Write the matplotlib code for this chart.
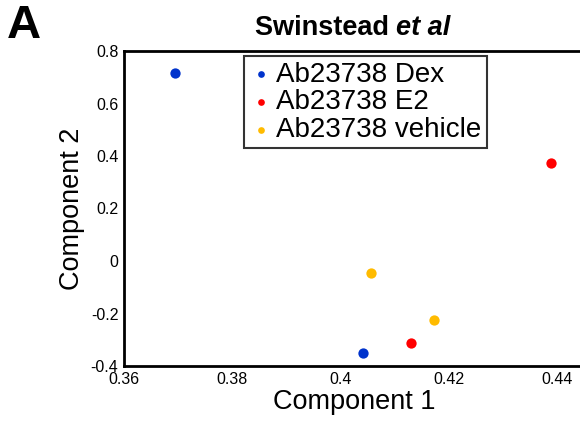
import matplotlib
matplotlib.use("Agg")
import matplotlib.pyplot as plt

plt.rcParams['font.family'] = ['Liberation Sans', 'DejaVu Sans']

# PCA scores
dex_x = [0.3694, 0.4042]
dex_y = [0.716, -0.350]
e2_x = [0.4130, 0.4389]
e2_y = [-0.312, 0.373]
veh_x = [0.4056, 0.4173]
veh_y = [-0.046, -0.225]

labels = ["Ab23738 Dex", "Ab23738 E2", "Ab23738 vehicle"]
colors = ["#0033cc", "#ff0000", "#ffbb00"]
xticks = [0.36, 0.38, 0.40, 0.42, 0.44]
xticklabels = ["0.36", "0.38", "0.4", "0.42", "0.44"]
yticks = [-0.4, -0.2, 0, 0.2, 0.4, 0.6, 0.8]
yticklabels = ["-0.4", "-0.2", "0", "0.2", "0.4", "0.6", "0.8"]

fig = plt.figure(figsize=(5.8, 4.26), dpi=100)
ax = fig.add_axes([124/580, 60/426, 460/580, 315/426])

for xs, ys, lab, c in zip([dex_x, e2_x, veh_x], [dex_y, e2_y, veh_y], labels, colors):
    ax.scatter(xs, ys, s=55, color=c, label=lab, linewidths=0, zorder=3)

ax.set_xlim(0.36, 0.445)
ax.set_ylim(-0.4, 0.8)
ax.set_xticks(xticks)
ax.set_xticklabels(xticklabels)
ax.set_yticks(yticks)
ax.set_yticklabels(yticklabels)
ax.tick_params(length=0, labelsize=11.5, pad=4)
for s in ["left", "bottom", "top"]:
    ax.spines[s].set_linewidth(2)
ax.spines["right"].set_visible(False)

ax.set_xlabel("Component 1", fontsize=19.5, labelpad=2)
ax.set_ylabel("Component 2", fontsize=19.5, labelpad=4)

leg = ax.legend(loc="upper left", bbox_to_anchor=(120/460, 310/315),
                fontsize=20, frameon=True, fancybox=False, borderpad=0.2,
                labelspacing=0.06, handlelength=0.8, handletextpad=0.15,
                borderaxespad=0, markerscale=0.65)
leg.get_frame().set_edgecolor("black")
leg.get_frame().set_linewidth(1.5)

# title: "Swinstead" bold, "et al" bold italic
t1 = fig.text(255/580, 1 - 28/426, "Swinstead ", fontsize=19.5,
              fontweight="bold", ha="left", va="center")
fig.canvas.draw()
bb = t1.get_window_extent()
fig.text(bb.x1 / 580, 1 - 28/426, "et al", fontsize=19.5, fontweight="bold",
         fontstyle="italic", ha="left", va="center")

fig.text(7/580, 1 - 26/426, "A", fontsize=34, fontweight="bold",
         ha="left", va="center")

fig.savefig("out.png", dpi=100)
